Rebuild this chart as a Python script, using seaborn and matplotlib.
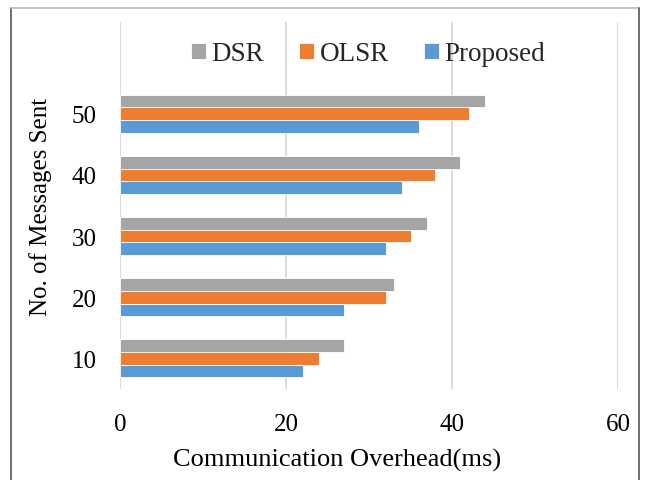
import matplotlib
matplotlib.use("Agg")
import matplotlib.pyplot as plt
from matplotlib.lines import Line2D
import seaborn as sns
import pandas as pd

# Messages sent per run (top to bottom on the chart)
messages = ["50", "40", "30", "20", "10"]
protocols = ["DSR", "OLSR", "Proposed"]
dsr = [44, 41, 37, 33, 27]
olsr = [42, 38, 35, 32, 24]
proposed = [36, 34, 32, 27, 22]
x_ticks = [0, 20, 40, 60]

colors = {"DSR": "#A5A5A5", "OLSR": "#ED7D31", "Proposed": "#5B9BD5"}

df = pd.DataFrame({
    "messages": messages * 3,
    "protocol": [p for p in protocols for _ in messages],
    "overhead": dsr + olsr + proposed,
})

sns.set_theme(style="white")
plt.rcParams["font.family"] = ["Liberation Serif", "DejaVu Serif"]

fig = plt.figure(figsize=(6.47, 4.81), dpi=100)
ax = fig.add_axes([120 / 647, 1 - 390 / 481, (618 - 120) / 647, (390 - 23) / 481])

sns.barplot(data=df, x="overhead", y="messages", hue="protocol",
            order=messages, hue_order=protocols, palette=colors,
            orient="h", width=0.62, gap=0, saturation=1, ax=ax,
            edgecolor="white", linewidth=0.6)

ax.set_xlim(0, 60)
ax.set_xticks(x_ticks)
# leave an empty slot above the top group for the legend
ax.set_ylim(4.5, -1.5)
ax.grid(axis="x", color="#D9D9D9", linewidth=1.3)
ax.set_axisbelow(True)
for s in ax.spines.values():
    s.set_visible(False)
ax.tick_params(axis="both", length=0, labelsize=18, colors="black")
ax.tick_params(axis="y", pad=17)
ax.tick_params(axis="x", pad=17)
ax.set_xlabel("Communication Overhead(ms)", fontsize=19, color="black")
ax.xaxis.set_label_coords((337 - 120) / 498, -(460 - 390) / 367)
ax.xaxis.label.set_va("center")
ax.set_ylabel("No. of Messages Sent", fontsize=18, color="black", labelpad=14)

leg = ax.legend(loc="center", bbox_to_anchor=((368 - 120) / 498, (390 - 55) / 367), ncol=3,
                frameon=False, fontsize=19.5, handlelength=0.55, handleheight=0.55,
                handletextpad=0.2, columnspacing=1.3, borderaxespad=0)

# outer frame of the figure
fig.add_artist(Line2D([10.5 / 647, 10.5 / 647], [0, 1 - 9 / 481], color="#555555", lw=1.2,
                      transform=fig.transFigure))
fig.add_artist(Line2D([10.5 / 647, 639 / 647], [1 - 9 / 481, 1 - 9 / 481], color="#BBBBBB",
                      lw=1.2, transform=fig.transFigure))
fig.add_artist(Line2D([639 / 647, 639 / 647], [0, 1 - 9 / 481], color="#555555", lw=1.2,
                      transform=fig.transFigure))

fig.savefig("out.png", dpi=100)
